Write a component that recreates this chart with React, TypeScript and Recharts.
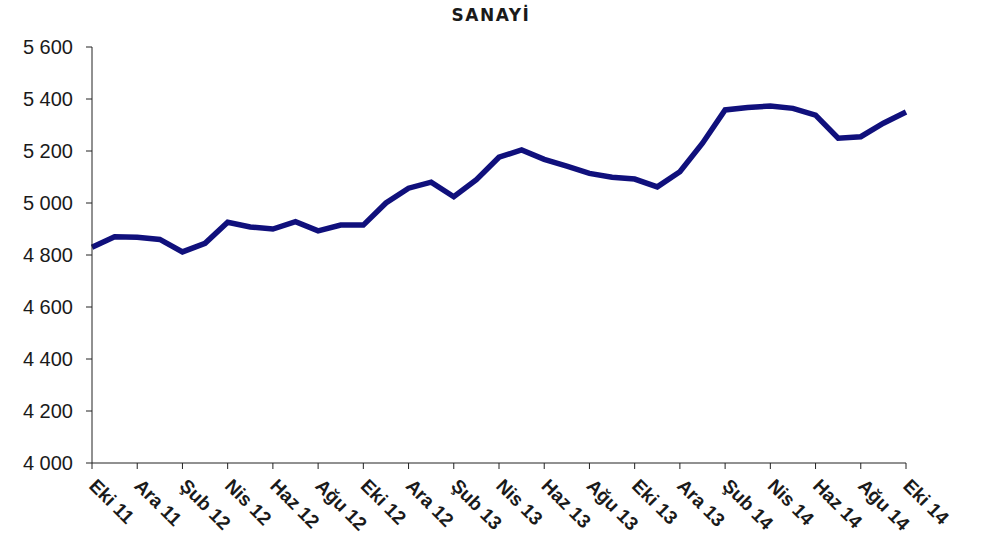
import { LineChart, Line, XAxis, YAxis } from "recharts";

const months = [
  "Eki 11", "Kas 11", "Ara 11", "Oca 12", "Şub 12", "Mar 12", "Nis 12", "May 12", "Haz 12", "Tem 12",
  "Ağu 12", "Eyl 12", "Eki 12", "Kas 12", "Ara 12", "Oca 13", "Şub 13", "Mar 13", "Nis 13", "May 13",
  "Haz 13", "Tem 13", "Ağu 13", "Eyl 13", "Eki 13", "Kas 13", "Ara 13", "Oca 14", "Şub 14", "Mar 14",
  "Nis 14", "May 14", "Haz 14", "Tem 14", "Ağu 14", "Eyl 14", "Eki 14",
];

const sanayi = [
  4830, 4870, 4868, 4860, 4812, 4845, 4926, 4908, 4900, 4928,
  4893, 4915, 4915, 5000, 5057, 5080, 5024, 5090, 5176, 5204,
  5168, 5142, 5114, 5099, 5092, 5062, 5120, 5230, 5358, 5367,
  5373, 5364, 5338, 5249, 5255, 5307, 5350,
];

const yTicks = [4000, 4200, 4400, 4600, 4800, 5000, 5200, 5400, 5600];

const data = months.map((m, i) => ({ label: m, value: sanayi[i] }));

const fmt = (v: number) => {
  const s = String(v);
  return s.slice(0, s.length - 3) + " " + s.slice(-3);
};

function XTick(props: any) {
  const { x, y, payload } = props;
  return (
    <g transform={`translate(${x},${y})`}>
      <text
        transform="rotate(45)"
        x={8.5}
        y={14}
        textAnchor="start"
        fontSize={19}
        fontWeight="bold"
        fontFamily="Liberation Sans, Arial, sans-serif"
        fill="#1a1a1a"
      >
        {payload.value}
      </text>
    </g>
  );
}

export default function App() {
  return (
    <div style={{ position: "absolute", left: 0, top: 0, background: "#fff" }}>
      <LineChart
        width={982}
        height={546}
        data={data}
        margin={{ top: 47, right: 76, bottom: 0, left: 0 }}
      >
        <text
          x={491}
          y={21}
          textAnchor="middle"
          fontSize={17}
          fontWeight="bold"
          letterSpacing={1.5}
          fontFamily="DejaVu Sans, sans-serif"
          fill="#1a1a1a"
        >
          SANAYİ
        </text>
        <XAxis
          dataKey="label"
          interval={1}
          height={83}
          tickSize={6}
          tick={<XTick />}
          stroke="#222"
          padding={{ left: 0, right: 0 }}
        />
        <YAxis
          width={92}
          domain={[4000, 5600]}
          ticks={yTicks}
          tickFormatter={fmt}
          tickSize={6}
          tickMargin={13}
          stroke="#222"
          tick={{ fontSize: 20, fill: "#1a1a1a", fontFamily: "Liberation Sans, Arial, sans-serif" }}
        />
        <Line
          dataKey="value"
          stroke="#10107c"
          strokeWidth={5.5}
          dot={false}
          isAnimationActive={false}
        />
      </LineChart>
    </div>
  );
}
